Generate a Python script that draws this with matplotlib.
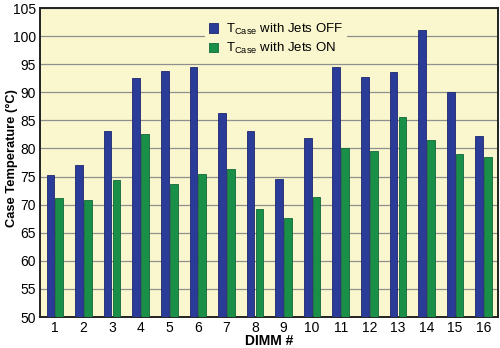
"""grouped bar chart of DIMM case temperatures"""

import numpy as np
import matplotlib
matplotlib.use('Agg')
import matplotlib.pyplot as plt

plt.rcParams['font.family'] = ['Liberation Sans', 'DejaVu Sans']
plt.rcParams['mathtext.fontset'] = 'custom'
plt.rcParams['mathtext.rm'] = 'Liberation Sans'

dimms = list(range(1, 17))
jets_off = [75.2, 77.0, 83.1, 92.6, 93.7, 94.5, 86.4, 83.1,
            74.6, 81.9, 94.5, 92.7, 93.6, 101.1, 90.0, 82.3]
jets_on = [71.1, 70.9, 74.4, 82.6, 73.6, 75.4, 76.4, 69.2,
           67.6, 71.4, 80.0, 79.5, 85.6, 81.5, 79.1, 78.4]

fig = plt.figure(figsize=(5.0, 3.48), dpi=100)
ax = fig.add_axes([0.080, 0.089, 0.916, 0.888])
ax.set_facecolor('#faf6cd')

x = np.array(dimms)
width = 0.27
ax.bar(x - 0.155, jets_off, width, color='#2a3c98', edgecolor='#1c2770',
       linewidth=0.6, label=r'T$_{\mathrm{Case}}$ with Jets OFF', zorder=3)
ax.bar(x + 0.155, jets_on, width, color='#1a8f48', edgecolor='#11673a',
       linewidth=0.6, label=r'T$_{\mathrm{Case}}$ with Jets ON', zorder=3)

ax.set_ylim(50, 105)
ax.set_xlim(0.48, 16.5)
ax.set_yticks(range(50, 106, 5))
ax.set_xticks(dimms)
ax.tick_params(length=0, labelsize=10, pad=3)
ax.yaxis.grid(True, color='#8f8f8f', linewidth=0.9, zorder=0)
ax.set_axisbelow(True)
for spine in ax.spines.values():
    spine.set_linewidth(1.4)
    spine.set_color('#222222')

ax.set_ylabel('Case Temperature (°C)', fontsize=9.3, fontweight='bold')
ax.yaxis.set_label_coords(-0.049, 0.515)
ax.set_xlabel('DIMM #', fontsize=10, fontweight='bold', labelpad=-1)

leg = ax.legend(loc='upper center', bbox_to_anchor=(0.515, 0.99), fontsize=9.5,
                frameon=True, facecolor='#faf6cd', edgecolor='none',
                framealpha=1, handlelength=0.7, handleheight=0.7,
                handletextpad=0.6, labelspacing=0.35, borderpad=0.3)
leg.set_zorder(5)

fig.savefig('out.png', dpi=100)
